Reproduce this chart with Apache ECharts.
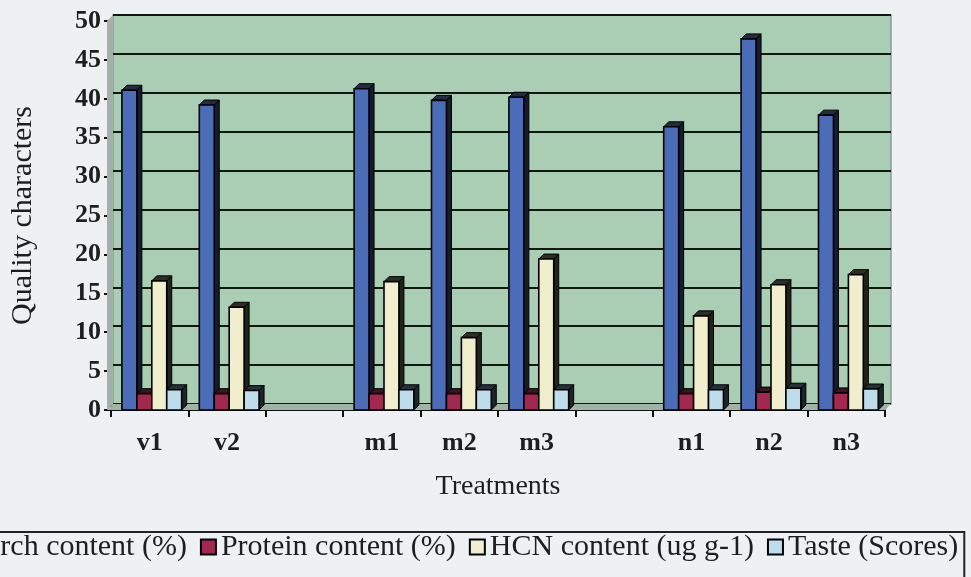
<!DOCTYPE html>
<html>
<head>
<meta charset="utf-8">
<title>Quality characters by treatment</title>
<script src="https://cdn.jsdelivr.net/npm/echarts@6/dist/echarts.min.js"></script>
<style>
  html, body { margin: 0; padding: 0; background: #eef1f3; }
  #chart { width: 971px; height: 577px; }
</style>
</head>
<body>
<div id="chart"></div>
<script>
// Treatment groups (a blank slot separates each group on the axis)
const groups = [['v1', 'v2'], ['m1', 'm2', 'm3'], ['n1', 'n2', 'n3']];

// Measured quality characters per treatment (v1 .. n3)
const starch  = [41.1, 39.2, 41.3, 39.8, 40.2, 36.4, 47.7, 37.9];
const protein = [2.1, 2.1, 2.1, 2.1, 2.1, 2.1, 2.3, 2.2];
const hcn     = [16.6, 13.2, 16.5, 9.3, 19.4, 12.1, 16.1, 17.4];
const taste   = [2.6, 2.5, 2.6, 2.6, 2.6, 2.6, 2.8, 2.7];

const seriesNames = ['Starch content (%)', 'Protein content (%)', 'HCN content (ug g-1)', 'Taste (Scores)'];

// Value axis range
const yMin = 0, yMax = 50, yStep = 5;

// ---- build axis slots ----
const slots = [];
const slotOf = [];
groups.forEach((g, gi) => {
  if (gi > 0) slots.push(' '.repeat(gi));
  g.forEach(name => { slotOf.push(slots.length); slots.push(name); });
});

const FONT = "'Liberation Serif', 'Times New Roman', serif";
const faceColors = ['#4b6cb7', '#a3284f', '#f1eecd', '#bddcec'];
const sideColors = ['#161c30', '#2a0f18', '#23231c', '#1d252b'];
const topColors  = ['#262c40', '#3a1622', '#2e2e26', '#27313a'];

// plot geometry
const front = { left: 107, top: 21, width: 778, height: 389 };
const depth = 6;
const wall = { left: front.left + depth, top: front.top - depth, width: front.width, height: front.height };

function bar3D(idx) {
  return function (params, api) {
    const cat = api.value(0);
    const val = api.value(1);
    const base = api.coord([cat, 0]);
    const top = api.coord([cat, val]);
    const band = api.size([1, 0])[0];
    const bw = band * 0.193;
    const d = 5;
    const x = base[0] - band / 2 + band * 0.141 + idx * bw;
    const yT = top[1], yB = base[1];
    return {
      type: 'group',
      children: [
        { type: 'polygon',
          shape: { points: [[x + bw, yT], [x + bw + d, yT - d], [x + bw + d, yB - d], [x + bw, yB]] },
          style: { fill: sideColors[idx], stroke: '#000', lineWidth: 1 } },
        { type: 'polygon',
          shape: { points: [[x, yT], [x + d, yT - d], [x + bw + d, yT - d], [x + bw, yT]] },
          style: { fill: topColors[idx], stroke: '#000', lineWidth: 1 } },
        { type: 'rect',
          shape: { x: x, y: yT, width: bw, height: yB - yT },
          style: { fill: faceColors[idx], stroke: '#000', lineWidth: 1.6 } }
      ]
    };
  };
}

const valueSets = [starch, protein, hcn, taste];
const series = valueSets.map((vals, idx) => ({
  name: seriesNames[idx],
  type: 'custom',
  xAxisIndex: 1,
  yAxisIndex: 1,
  renderItem: bar3D(idx),
  itemStyle: { color: faceColors[idx], borderColor: '#000', borderWidth: 2 },
  encode: { x: 0, y: 1 },
  data: vals.map((v, i) => [slots[slotOf[i]], v]),
  z: 5
}));

const chart = echarts.init(document.getElementById('chart'), null, { renderer: 'canvas' });
chart.setOption({
  backgroundColor: '#eef1f3',
  animation: false,
  textStyle: { fontFamily: FONT, color: '#1e1e1e' },
  graphic: [
    { // floor strip
      type: 'polygon', z: 1, silent: true,
      shape: { points: [
        [front.left, front.top + front.height],
        [wall.left, wall.top + wall.height],
        [wall.left + wall.width, wall.top + wall.height],
        [front.left + front.width, front.top + front.height]] },
      style: { fill: '#9fb4a6' }
    },
    { // left side wall
      type: 'polygon', z: 1, silent: true,
      shape: { points: [
        [front.left, front.top],
        [wall.left, wall.top],
        [wall.left, wall.top + wall.height],
        [front.left, front.top + front.height]] },
      style: { fill: '#a3b1a9' }
    }
  ],
  grid: [
    { left: wall.left, top: wall.top, width: wall.width, height: wall.height,
      show: true, backgroundColor: '#a9ceb3', borderColor: '#8e9a95', borderWidth: 1.5, z: 0 },
    { left: front.left, top: front.top, width: front.width, height: front.height }
  ],
  xAxis: [
    { gridIndex: 0, type: 'value', show: false, min: 0, max: 1 },
    { gridIndex: 1, type: 'category', data: slots,
      axisLine: { lineStyle: { color: '#111', width: 2 } },
      axisTick: { show: true, length: 7, lineStyle: { color: '#111', width: 2 } },
      axisLabel: { fontFamily: FONT, fontSize: 26, fontWeight: 'bold', color: '#1e1e1e', margin: 20 },
      name: 'Treatments', nameLocation: 'middle', nameGap: 63,
      nameTextStyle: { fontFamily: FONT, fontSize: 28, color: '#1e1e1e' } }
  ],
  yAxis: [
    { gridIndex: 0, type: 'value', min: yMin, max: yMax, interval: yStep,
      axisLine: { show: false }, axisTick: { show: false }, axisLabel: { show: false },
      splitLine: { show: true, lineStyle: { color: '#101810', width: 2 } } },
    { gridIndex: 1, type: 'value', min: yMin, max: yMax, interval: yStep,
      axisLine: { show: true, lineStyle: { color: '#111', width: 2 } },
      axisTick: { show: true, length: 7, lineStyle: { color: '#111', width: 2 } },
      axisLabel: { fontFamily: FONT, fontSize: 26, fontWeight: 'bold', color: '#1e1e1e', margin: 10 },
      splitLine: { show: false },
      name: 'Quality characters', nameLocation: 'middle', nameRotate: 90, nameGap: 73,
      nameTextStyle: { fontFamily: FONT, fontSize: 30, color: '#1e1e1e' } }
  ],
  legend: {
    data: seriesNames,
    left: -64, top: 532,
    orient: 'horizontal',
    icon: 'rect',
    itemWidth: 15, itemHeight: 15, itemGap: 13,
    padding: [0, 6, 40, 5],
    borderColor: '#222', borderWidth: 2,
    itemStyle: { borderColor: '#000', borderWidth: 2 },
    textStyle: { fontFamily: FONT, fontSize: 30, color: '#1e1e1e', lineHeight: 26 }
  },
  series: series
});
</script>
</body>
</html>
